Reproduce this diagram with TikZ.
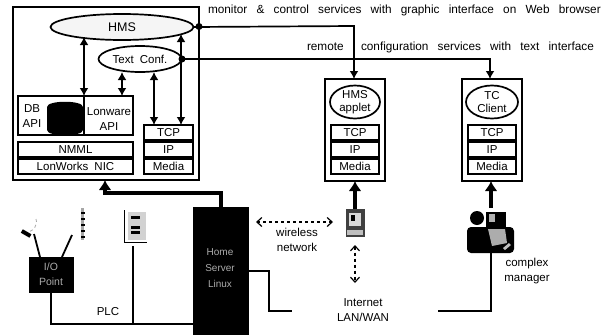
\documentclass[tikz,border=0pt]{standalone}
\usepackage{fontspec}
\setmainfont{Liberation Sans}
\usetikzlibrary{arrows.meta,shapes.geometric}
\newcommand{\widefont}{\fontsize{11.8}{14}\selectfont\spaceskip 9.2pt\relax}
\tikzset{
  x=1pt,y=-1pt,
  every node/.style={font=\fontsize{11.5}{15}\selectfont,inner sep=0pt,outer sep=0pt},
  lab/.style={align=center},
  wide/.style={anchor=west,font=\widefont},
  cell/.style={draw=black,line width=1.7pt,minimum height=15pt,anchor=center,fill=white},
  oval/.style={ellipse,draw=black,line width=1.7pt,fill=white,align=center},
  wire/.style={draw=black,line width=1.7pt},
  dbl/.style={wire,{Latex[length=8pt,width=9pt]}-{Latex[length=8pt,width=9pt]}},
  fat/.style={draw=black,line width=3.5pt,-{Latex[length=10pt,width=13pt]}},
  dsh/.style={draw=black,line width=1.2pt,dashed,{Straight Barb[length=5pt,width=9pt]}-{Straight Barb[length=5pt,width=9pt]}},
  frame/.style={draw=black,line width=1.8pt,fill=white},
  solid box/.style={draw=black,fill=black},
  inv/.style={align=center,text=gray!65,font=\fontsize{10.5}{15}\selectfont}
}
\begin{document}
\begin{tikzpicture}
\useasboundingbox (0,0) rectangle (614,335);
% main host
\node[frame,minimum width=186pt,minimum height=173pt] (host) at (106,93.5) {};
\node[oval,fill=gray!8,minimum width=143pt,minimum height=26pt,font=\fontsize{12.5}{15}\selectfont] (hms) at (122,27) {HMS};
\node[oval,minimum width=83pt,minimum height=26pt] (tc) at (140,59) {Text\hspace{3pt} Conf.};
\node[cell,minimum width=115pt,minimum height=39pt] (api) at (75.5,115.5) {};
\node[lab] (dbapi) at (32,116) {DB\\API};
\node[lab] (lonapi) at (109,119.5) {Lonware\\API};
\fill[black] (47,107) .. controls (47,100) and (83,100) .. (83,107) -- (83,130) .. controls (83,137) and (47,137) .. (47,130) -- cycle;
\node[cell,minimum width=115pt] (nmml) at (75.5,149.5) {NMML};
\node[cell,minimum width=115pt] (nic) at (75.5,166.5) {LonWorks\hspace{3pt} NIC};
\node[cell,minimum width=49pt] (tcpa) at (168.5,132.5) {TCP};
\node[cell,minimum width=49pt] (ipa) at (168.5,149.5) {IP};
\node[cell,minimum width=49pt] (meda) at (168.5,166.5) {Media};
\coordinate (hmsdb) at (84,37);
\coordinate (dbtop) at (84,96);
\draw[dbl] (hmsdb) -- (dbtop);
\draw[wire] (dbtop) -- (84,135) -- (18,135);
\coordinate (tcl) at (122,72);
\coordinate (lont) at (122,96);
\draw[dbl] (tcl) -- (lont);
\coordinate (tcr) at (154,72);
\coordinate (tcpl) at (154,125);
\draw[dbl] (tcr) -- (tcpl);
\coordinate (hmsr) at (181,34);
\coordinate (tcpr) at (181,125);
\draw[dbl] (hmsr) -- (tcpr);
% client boxes
\node[frame,minimum width=60pt,minimum height=102pt] (c1) at (355,130) {};
\node[oval,minimum width=50pt,minimum height=33pt,font=\fontsize{11.5}{12.5}\selectfont] (app) at (355,102) {HMS\\applet};
\node[cell,minimum width=48pt] (tcp1) at (355,132.5) {TCP};
\node[cell,minimum width=48pt] (ip1) at (355,149.5) {IP};
\node[cell,minimum width=48pt] (med1) at (355,166.5) {Media};
\node[frame,minimum width=60pt,minimum height=102pt] (c2) at (492,130) {};
\node[oval,minimum width=52pt,minimum height=33pt,font=\fontsize{11.5}{12.5}\selectfont] (tcc) at (492,102) {TC\\Client};
\node[cell,minimum width=48pt] (tcp2) at (492,132.5) {TCP};
\node[cell,minimum width=48pt] (ip2) at (492,149.5) {IP};
\node[cell,minimum width=48pt] (med2) at (492,166.5) {Media};
% service lines
\coordinate (s1) at (354,26);
\coordinate (s2) at (490,59);
\fill (199,26.5) circle (3.5pt);
\fill (182,59) circle (3.5pt);
\draw[wire,-{Latex[length=8pt,width=9pt]}] (hms.east) -- (s1) -- (c1.north -| s1);
\draw[wire,-{Latex[length=8pt,width=9pt]}] (tc.east) -- (s2) -- (c2.north -| s2);
\node[wide] (t1) at (208,10) {monitor \& control services with graphic interface on Web browser};
\node[wide] (t2) at (307,47) {remote};
\node[wide] (t3) at (361,47) {configuration services with text interface};
% server
\node[solid box,minimum width=55pt,minimum height=128pt] (srv) at (220.5,271) {};
\node[inv,font=\fontsize{10}{16}\selectfont] (srvt) at (220,268) {Home\\Server\\Linux};
\coordinate (b1) at (221,193);
\coordinate (b2) at (105,193);
\draw[fat] (srv.north -| b1) -- (b1) -- (b2) -- (host.south -| b2);
% i/o point
\node[solid box,minimum width=44pt,minimum height=35pt,inv] (io) at (51,274.5) {I/O\\Point};
\coordinate (mic) at (34,234);
\coordinate (jack) at (72,235);
\draw[line width=1.8pt] (40,257) -- (mic);
\draw[line width=1.8pt] (62,257) -- (jack);
% mic
\draw[line width=0.8pt,gray!70,dashed] (36,219) .. controls (38,226) and (33,231) .. (28,232);
\fill[black,rotate around={-30:(27,234)}] (21,232) rectangle (31,236);
% jack
\fill[gray!70] (81,208) rectangle (84,240);
\foreach \yy in {212,218,224,230,236} \fill (80.5,\yy) rectangle (84.5,\yy+2);
% terminal strip
\draw[line width=1pt] (124,210) -- (124,242) -- (147,242);
\fill[gray!35] (128,212) rectangle (146,240);
\foreach \yy in {216,226,231} \fill (131,\yy) rectangle (140,\yy+2.5);
% PLC
\coordinate (plcl) at (51,324);
\coordinate (plcm) at (133,324);
\coordinate (plct) at (133,246);
\draw[wire] (io.south) -- (plcl) -- (plcm -| srv.west);
\draw[wire] (plct) -- (plcm);
\node (plc) at (108,312) {PLC};
% network wire
\coordinate (n1) at (269,271);
\coordinate (n2) at (269,311);
\coordinate (n3) at (292,311);
\draw[wire] (n1 -| srv.east) -- (n1) -- (n2) -- (n3);
% wireless
\coordinate (wl) at (256,222);
\coordinate (wr) at (333,222);
\draw[dsh] (wl) -- (wr);
\node[lab] (wt) at (297,240) {wireless\\network};
% pda
\node[fill=black!75,minimum width=19pt,minimum height=28pt] (pda) at (355,223) {};
\fill[white!85!black] (349,213) rectangle (361,226);
\fill[black] (351,215) rectangle (355,221);
\fill[gray!50] (347,230) rectangle (363,235);
\draw[fat] (pda.north) -- (c1.south);
\coordinate (dt) at (355,245);
\coordinate (db2) at (355,283);
\draw[dsh] (dt) -- (db2);
\node[lab] (inet) at (363,310.5) {Internet\\LAN/WAN};
% manager
\coordinate (mg) at (491,208);
\draw[fat] (mg) -- (c2.south -| mg);
\fill[black,rounded corners=4pt] (467,227) rectangle (514,253);
\fill (477,218) circle (7pt);
\fill[black] (486,212) rectangle (506,229);
\fill[gray!60] (489,214) rectangle (495,222);
\fill[gray!65] (488,229) -- (505,229) -- (507,243) -- (492,246) -- cycle;
\fill[gray!50] (503,248) -- (509,243) -- (511,245) -- (505,250) -- cycle;
\coordinate (m1) at (491,253);
\coordinate (m2) at (491,311);
\coordinate (m3) at (438,311);
\draw[wire] (m1) -- (m2) -- (m3);
\node[lab] (cm) at (527,271) {complex\\manager};
\end{tikzpicture}
\end{document}
